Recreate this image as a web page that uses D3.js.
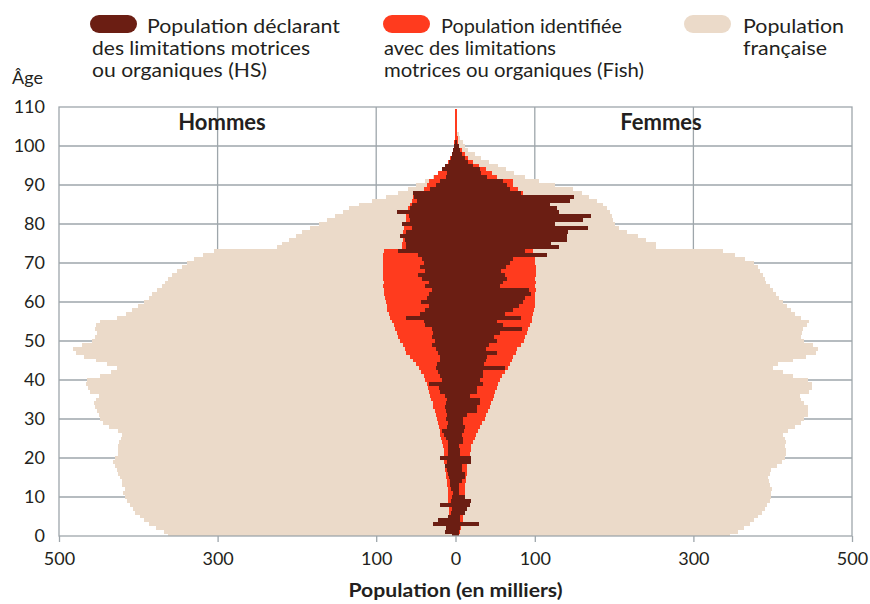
<!DOCTYPE html>
<html>
<head>
<meta charset="utf-8">
<script src="https://cdn.jsdelivr.net/npm/d3@7/dist/d3.min.js"></script>
<style>
  body { margin: 0; background: #fff; }
  text { font-family: Lato, "Open Sans", sans-serif; fill: #231f20; }
</style>
</head>
<body>
<div id="chart"></div>
<script>
// ages 0..109 (one bar per year of age)
var ages = d3.range(0, 110);

// Population française, milliers
var hommesFrance = [362,368,378,387,393,398,404,407,410,414,
  417,419,417,420,420,423,425,427,430,432,
  429,425,425,425,424,422,420,425,437,444,
  448,450,452,454,456,453,449,461,464,466,
  465,448,435,427,439,453,469,479,482,471,
  458,454,452,454,453,448,427,416,408,401,
  393,387,383,377,370,366,362,357,351,345,
  339,330,318,305,225,219,210,201,193,183,
  172,162,152,142,134,122,105,88,72,60,
  50,38,28,20,14,10,7,5,3.5,2.5,
  1.8,1.2,0.8,0.5,0.3,0.2,0.1,0.1,0.1,0.1];
var femmesFrance = [346,356,364,372,377,381,386,390,393,396,
  398,398,399,397,395,394,396,398,405,412,
  416,417,417,415,417,415,413,419,428,436,
  440,444,445,444,440,436,434,446,449,449,
  444,425,413,400,407,425,442,455,457,451,
  440,436,437,438,443,446,436,428,423,418,
  413,408,404,400,396,392,390,388,384,381,
  377,365,352,337,253,253,240,230,216,206,
  201,199,197,195,191,186,178,168,160,148,
  125,105,88,74,64,54,42,32,24,16,
  12,9,6,4,2.5,1.5,1,0.6,0.3,0.2];

// Fish : population identifiée avec des limitations motrices ou organiques
var hommesFish = [4,5,6,7,7,8,8,8,9,9,
  9,10,10,11,11,12,12,13,13,14,
  14,15,15,16,17,18,19,20,21,22,
  23,25,26,28,29,31,32,33,35,36,
  38,40,43,46,50,54,58,62,64,66,
  70,72,74,76,78,80,82,84,86,87,
  88,89,90,90,91,90,91,92,91,92,
  92,91,91,90,68,68,66,65,66,65,
  64,63,62,62,60,58,55,54,50,40,
  36,33,27,22,16,12,9,7,5,3,
  2,1.5,1.2,1,0.8,0.6,0.5,0.4,0.4,0.4];
var femmesFish = [4,6,7,8,9,10,10,10,10,11,
  11,12,12,12,13,13,14,14,15,16,
  17,18,19,20,22,24,26,28,31,34,
  37,39,41,44,45,47,49,50,52,54,
  56,59,63,66,69,71,73,76,78,82,
  86,88,90,92,94,96,97,98,99,100,
  100,100,100,101,100,101,100,101,102,101,
  100,100,99,98,90,90,92,88,86,85,
  84,84,83,82,80,78,75,72,85,79,
  73,73,52,46,38,30,22,16,12,8,
  5,3.5,3,2.5,2,1.8,1.6,1.5,1.5,1.5];

// HS : population déclarant des limitations motrices ou organiques
var hommesHS = [5,13,12,28,22,9,6,5,20,6,
  5,3,6,7,7,8,9,11,13,11,
  20,10,10,9,10,12,15,17,11,10,
  12,11,12,13,12,11,13,19,21,33,
  17,20,22,24,23,20,19,22,24,30,
  26,30,28,30,38,40,62,45,38,34,
  43,36,33,30,38,34,42,47,38,45,
  40,42,47,72,62,63,64,70,62,55,
  68,57,59,74,57,55,49,52,53,32,
  24,20,12,11,17,13,8,6,4,3,
  2,1,0,0,0,0,0,0,0,0];
var femmesHS = [4,4,6,30,6,6,12,14,18,20,
  12,4,4,4,8,12,12,8,8,20,
  20,6,6,4,10,10,8,11,12,10,
  10,14,27,27,31,31,18,27,27,35,
  31,35,35,62,36,38,40,52,39,42,
  52,48,56,84,60,52,83,62,72,80,
  85,88,95,93,56,60,65,63,58,64,
  69,73,115,88,130,121,140,140,142,167,
  125,161,171,130,128,119,144,150,83,69,
  65,60,40,32,31,22,16,12,8,6,
  4,2,1,0,0,0,0,0,0,0];

var xTicks = [-500, -300, -100, 0, 100, 300, 500];
var yTicks = [0, 10, 20, 30, 40, 50, 60, 70, 80, 90, 100, 110];

var colors = { hs: "#6b1e13", fish: "#ff3b1e", france: "#ebdac9", grid: "#9ea6ab" };

var width = 870, height = 604;
var plotLeft = 59, plotRight = 852, plotTop = 107, plotBottom = 536;
var center = (plotLeft + plotRight) / 2;

var svg = d3.select("#chart").append("svg")
  .attr("width", width)
  .attr("height", height);

var xAxisScale = d3.scaleLinear().domain([-500, 500]).range([plotLeft, plotRight]);
var xMen = d3.scaleLinear().domain([0, 500]).range([center, plotLeft]);
var xWomen = d3.scaleLinear().domain([0, 500]).range([center, plotRight]);
var y = d3.scaleLinear().domain([0, 110]).range([plotBottom, plotTop]);

// grid
var grid = svg.append("g").attr("stroke", colors.grid).attr("stroke-width", 1.3);
grid.selectAll("line.h").data(yTicks.filter(function (d) { return d > 0 && d < 110; }))
  .enter().append("line")
  .attr("x1", plotLeft).attr("x2", plotRight)
  .attr("y1", function (d) { return y(d); }).attr("y2", function (d) { return y(d); });
grid.selectAll("line.v").data([-300, -100, 100, 300])
  .enter().append("line")
  .attr("y1", plotTop).attr("y2", plotBottom)
  .attr("x1", function (d) { return xAxisScale(d); }).attr("x2", function (d) { return xAxisScale(d); });

svg.append("clipPath").attr("id", "plot")
  .append("rect").attr("x", plotLeft).attr("y", plotTop)
  .attr("width", plotRight - plotLeft).attr("height", plotBottom - plotTop);

var bars = svg.append("g").attr("clip-path", "url(#plot)").attr("shape-rendering", "crispEdges");

function drawSide(values, scale, color, side) {
  bars.append("g").selectAll("rect")
    .data(ages)
    .enter().append("rect")
    .attr("x", function (d) { return side === "left" ? scale(values[d]) : center; })
    .attr("width", function (d) { return Math.abs(scale(values[d]) - center); })
    .attr("y", function (d) { return y(d + 0.5); })
    .attr("height", function (d) { return y(d - 0.5) - y(d + 0.5); })
    .attr("fill", color);
}

drawSide(hommesFrance, xMen, colors.france, "left");
drawSide(femmesFrance, xWomen, colors.france, "right");
drawSide(hommesFish, xMen, colors.fish, "left");
drawSide(femmesFish, xWomen, colors.fish, "right");
drawSide(hommesHS, xMen, colors.hs, "left");
drawSide(femmesHS, xWomen, colors.hs, "right");

// frame
svg.append("rect")
  .attr("x", plotLeft).attr("y", plotTop)
  .attr("width", plotRight - plotLeft).attr("height", plotBottom - plotTop)
  .attr("fill", "none").attr("stroke", colors.grid).attr("stroke-width", 1.3);

// x axis
var xAxis = svg.append("g")
  .attr("transform", "translate(0," + plotBottom + ")")
  .call(d3.axisBottom(xAxisScale).tickValues(xTicks).tickSize(6).tickPadding(10)
    .tickFormat(function (d) { return Math.abs(d); }));
xAxis.select(".domain").remove();
xAxis.selectAll("line").attr("stroke", colors.grid).attr("stroke-width", 1.3);
xAxis.selectAll("text").attr("font-size", 18).attr("fill", "#231f20")
  .style("font-family", "Lato, 'Open Sans', sans-serif");

// y axis
var yAxis = svg.append("g")
  .attr("transform", "translate(" + plotLeft + ",0)")
  .call(d3.axisLeft(y).tickValues(yTicks).tickSize(0).tickPadding(14));
yAxis.select(".domain").remove();
yAxis.selectAll("text").attr("font-size", 18).attr("fill", "#231f20")
  .style("font-family", "Lato, 'Open Sans', sans-serif");

svg.append("text").attr("x", 12).attr("y", 84).attr("font-size", 18).text("Âge");

svg.append("text").attr("x", 222).attr("y", 130).attr("text-anchor", "middle")
  .attr("font-size", 22).attr("font-weight", "bold").text("Hommes");
svg.append("text").attr("x", 661).attr("y", 130).attr("text-anchor", "middle")
  .attr("font-size", 22).attr("font-weight", "bold").text("Femmes");

svg.append("text").attr("x", center).attr("y", 597).attr("text-anchor", "middle")
  .attr("font-size", 18).attr("font-weight", "bold")
  .attr("textLength", 214).attr("lengthAdjust", "spacingAndGlyphs")
  .text("Population (en milliers)");

// legend
var legend = [
  { color: colors.hs, x: 90, lines: [["Population déclarant", 147, 193], ["des limitations motrices", 92, 218], ["ou organiques (HS)", 92, 175]] },
  { color: colors.fish, x: 383, lines: [["Population identifiée", 441, 181], ["avec des limitations", 384, 172], ["motrices ou organiques (Fish)", 384, 260]] },
  { color: colors.france, x: 684, lines: [["Population", 743, 101], ["française", 743, 84]] }
];

var lg = svg.append("g");
legend.forEach(function (item) {
  lg.append("rect")
    .attr("x", item.x).attr("y", 15).attr("width", 47).attr("height", 18).attr("rx", 9)
    .attr("fill", item.color);
  item.lines.forEach(function (l, i) {
    lg.append("text")
      .attr("x", l[1]).attr("y", 33 + i * 22)
      .attr("font-size", 19)
      .attr("textLength", l[2]).attr("lengthAdjust", "spacingAndGlyphs")
      .text(l[0]);
  });
});
</script>
</body>
</html>
